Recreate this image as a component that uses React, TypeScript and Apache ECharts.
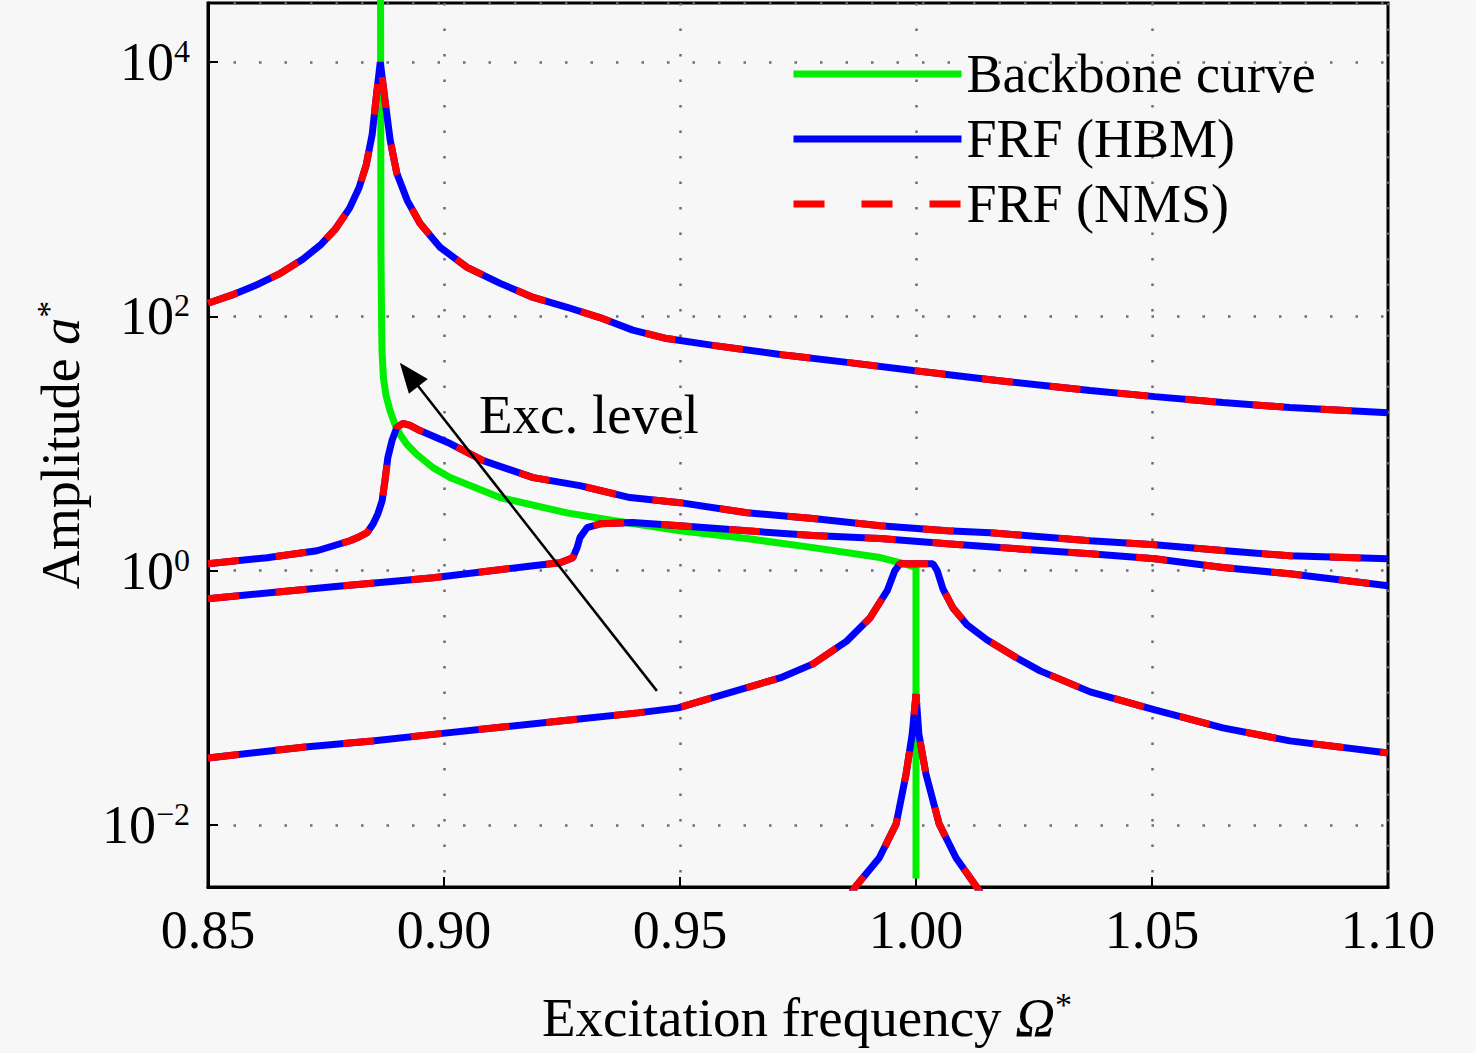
import React, { useEffect, useRef } from "react";
import * as echarts from "echarts";

const FONT = '"Liberation Serif", "Times New Roman", Times, serif';

// y tick decades that carry labels
const yDecades = [-2, 0, 2, 4];

// Backbone curve
const backboneFreq = [0.88655, 0.88665, 0.88678, 0.88686, 0.88718, 0.88771, 0.88856, 0.88962, 0.89068, 0.89216, 0.89428, 0.89767, 0.90127, 0.91186, 0.92606, 0.9358, 0.95, 0.9642, 0.9782, 0.9924, 0.9966, 1.0, 1.0];
const backboneAmp = [40000, 300, 90, 54, 32.5, 23.9, 18.2, 14.1, 11.8, 9.83, 8.19, 6.47, 5.4, 3.76, 2.85, 2.48, 2.06, 1.79, 1.52, 1.27, 1.16, 1.06, 0.0038];

// FRF, highest excitation level
const frfAFreq = [0.85, 0.855, 0.86, 0.865, 0.87, 0.874, 0.877, 0.88, 0.882, 0.8835, 0.8848, 0.8856, 0.8865, 0.8875, 0.8886, 0.89, 0.8922, 0.8949, 0.8992, 0.9049, 0.9119, 0.9189, 0.9261, 0.933, 0.94, 0.9472, 0.957, 0.9712, 0.9854, 0.9994, 1.0172, 1.0369, 1.0506, 1.065, 1.0792, 1.1];
const frfAAmp = [127, 147, 175, 215, 280, 370, 487, 711, 1028, 1541, 2721, 5140, 10000, 5023, 2432, 1337, 818, 540, 349, 243, 182, 141, 118, 98, 78, 67, 59.2, 50.2, 43.5, 37.6, 31.3, 26.1, 23.4, 21.0, 19.2, 17.5];

// FRF, second level
const frfBFreq = [0.85, 0.8625, 0.8731, 0.8801, 0.8822, 0.8837, 0.885, 0.886, 0.8869, 0.8875, 0.8881, 0.889, 0.89, 0.8913, 0.8928, 0.8949, 0.9013, 0.9083, 0.9189, 0.9288, 0.9394, 0.95, 0.9642, 0.9782, 0.9924, 1.0066, 1.0157, 1.0369, 1.0506, 1.065, 1.0792, 1.1];
const frfBAmp = [1.135, 1.265, 1.435, 1.72, 1.86, 1.99, 2.34, 2.81, 3.56, 5.12, 7.76, 10.6, 13.4, 14.4, 13.9, 12.65, 10.0, 7.345, 5.395, 4.67, 3.76, 3.43, 2.86, 2.57, 2.26, 2.06, 1.99, 1.72, 1.6, 1.44, 1.31, 1.24];

// FRF, third level
const frfCFreq = [0.85, 0.8765, 0.8977, 0.9189, 0.9246, 0.9273, 0.9282, 0.9288, 0.9303, 0.9331, 0.94, 0.95, 0.9642, 0.9782, 0.9924, 1.0066, 1.0178, 1.0369, 1.0506, 1.065, 1.0792, 1.1];
const frfCAmp = [0.603, 0.748, 0.881, 1.094, 1.156, 1.265, 1.517, 1.82, 2.18, 2.34, 2.39, 2.26, 2.06, 1.89, 1.79, 1.63, 1.52, 1.36, 1.24, 1.06, 0.946, 0.762];

// FRF, fourth level
const frfDFreq = [0.85, 0.8706, 0.8848, 0.8987, 0.9129, 0.9271, 0.9411, 0.9496, 0.9553, 0.9712, 0.9782, 0.9854, 0.9903, 0.9939, 0.9955, 0.9966, 1.0036, 1.0045, 1.0057, 1.0078, 1.0108, 1.015, 1.0206, 1.0263, 1.0369, 1.0506, 1.065, 1.0792, 1.1];
const frfDAmp = [0.0337, 0.0411, 0.0458, 0.0521, 0.0592, 0.0672, 0.0762, 0.0834, 0.0964, 0.1435, 0.185, 0.281, 0.427, 0.697, 1.0, 1.135, 1.135, 1.0, 0.721, 0.512, 0.376, 0.286, 0.214, 0.163, 0.1115, 0.0805, 0.0581, 0.0459, 0.0369];

// FRF, lowest level
const frfEFreq = [0.9851, 0.9873, 0.9922, 0.9958, 0.9979, 0.9992, 1.0, 1.0006, 1.0021, 1.0049, 1.0085, 1.0127, 1.0149];
const frfEAmp = [0.0025, 0.00331, 0.0055, 0.0102, 0.0252, 0.0521, 0.107, 0.0521, 0.0252, 0.0102, 0.0055, 0.00331, 0.0025];

// "Exc. level" arrow (start, end) in data coordinates
const arrowFreq = [0.9451, 0.8926];
const arrowAmp = [0.1135, 34.9];

const zip = (f: number[], a: number[]) => f.map((v, i) => [v, a[i]]);

const LW = 7;
const BLUE = "#0000ff";
const RED = "#ff0000";
const GREEN = "#00ee00";
const DASH = [31, 37];

export default function App() {
  const ref = useRef<HTMLDivElement>(null);

  useEffect(() => {
    const chart = echarts.init(ref.current!, null, { renderer: "svg" });

    const curves = [
      zip(frfAFreq, frfAAmp),
      zip(frfBFreq, frfBAmp),
      zip(frfCFreq, frfCAmp),
      zip(frfDFreq, frfDAmp),
      zip(frfEFreq, frfEAmp),
    ];

    const series: any[] = [
      {
        type: "line",
        name: "Backbone curve",
        data: zip(backboneFreq, backboneAmp),
        symbol: "none",
        showSymbol: false,
        silent: true,
        lineStyle: { color: GREEN, width: LW, cap: "butt" },
        itemStyle: { color: GREEN },
        z: 2,
      },
    ];
    curves.forEach((d, k) => {
      series.push({
        type: "line",
        name: "FRF (HBM)",
        data: d,
        symbol: "none",
        showSymbol: false,
        silent: true,
        lineStyle: { color: BLUE, width: LW, type: "solid" },
        itemStyle: { color: BLUE },
        z: 3,
      });
      const red: any = {
        type: "line",
        name: "FRF (NMS)",
        data: d,
        symbol: "none",
        showSymbol: false,
        silent: true,
        lineStyle: { color: RED, width: LW, type: DASH, cap: "butt" },
        itemStyle: { color: RED },
        z: 4,
      };
      if (k === curves.length - 1) {
        red.markLine = {
          silent: true,
          animation: false,
          symbol: ["none", "triangle"],
          symbolSize: [24, 30],
          label: { show: false },
          lineStyle: { color: "#000", width: 2.5, type: "solid" },
          itemStyle: { color: "#000" },
          emphasis: { disabled: true },
          data: [
            [
              { coord: [arrowFreq[0], arrowAmp[0]] },
              { coord: [arrowFreq[1], arrowAmp[1]] },
            ],
          ],
        };
      }
      series.push(red);
    });

    const option: any = {
      animation: false,
      backgroundColor: "#f7f7f7",
      textStyle: { fontFamily: FONT },
      grid: {
        left: 208,
        right: 88,
        top: 3,
        bottom: 166,
        show: true,
        borderColor: "#000",
        borderWidth: 3,
        backgroundColor: "transparent",
      },
      legend: {
        orient: "vertical",
        left: 785,
        top: 42,
        itemWidth: 168,
        itemHeight: 4,
        itemGap: 11,
        selectedMode: false,
        itemStyle: { opacity: 0 },
        lineStyle: { width: LW },
        textStyle: { fontFamily: FONT, fontSize: 54, color: "#000", lineHeight: 54 },
        data: ["Backbone curve", "FRF (HBM)", "FRF (NMS)"],
      },
      xAxis: {
        type: "value",
        min: 0.85,
        max: 1.1,
        interval: 0.05,
        name: "{n|Excitation frequency }{i|Ω}{s|*}",
        nameLocation: "middle",
        nameGap: 100,
        nameTextStyle: {
          fontFamily: FONT,
          fontSize: 55,
          color: "#000",
          lineHeight: 60,
          padding: [0, 0, 0, 18],
          rich: {
            n: { fontFamily: FONT, fontSize: 55, color: "#000", lineHeight: 60, verticalAlign: "middle" },
            i: { fontFamily: FONT, fontSize: 55, color: "#000", fontStyle: "italic", lineHeight: 60, verticalAlign: "middle" },
            s: { fontFamily: FONT, fontSize: 34, color: "#000", lineHeight: 40, verticalAlign: "top" },
          },
        },
        axisLine: { show: true, lineStyle: { color: "#000", width: 3 } },
        axisTick: { show: true, inside: true, length: 10, lineStyle: { color: "#000", width: 2 } },
        axisLabel: {
          margin: 16,
          fontFamily: FONT,
          fontSize: 54,
          color: "#000",
          lineHeight: 54,
          formatter: (v: number) => v.toFixed(2),
        },
        splitLine: { show: true, lineStyle: { color: "#6e6e6e", width: 2.5, type: [2.5, 23] } },
      },
      yAxis: {
        type: "log",
        logBase: 100,
        min: Math.pow(10, -2.4875),
        max: Math.pow(10, 4.465),
        name: "{n|Amplitude }{i|a}{s|*}",
        nameLocation: "middle",
        nameGap: 116,
        nameTextStyle: {
          fontFamily: FONT,
          fontSize: 54,
          color: "#000",
          lineHeight: 60,
          rich: {
            n: { fontFamily: FONT, fontSize: 54, color: "#000", lineHeight: 60, verticalAlign: "middle" },
            i: { fontFamily: FONT, fontSize: 54, color: "#000", fontStyle: "italic", lineHeight: 60, verticalAlign: "middle" },
            s: { fontFamily: FONT, fontSize: 34, color: "#000", lineHeight: 40, verticalAlign: "top" },
          },
        },
        axisLine: { show: true, lineStyle: { color: "#000", width: 3 } },
        axisTick: { show: true, inside: true, length: 10, lineStyle: { color: "#000", width: 2 } },
        axisLabel: {
          margin: 18,
          formatter: (v: number) => {
            const lg = Math.log10(v);
            const e = Math.round(lg);
            if (Math.abs(lg - e) > 1e-6 || yDecades.indexOf(e) < 0) return "";
            const s = e < 0 ? "\u2212" + String(-e) : String(e);
            return "{b|10}{s|" + s + "}";
          },
          rich: {
            b: { fontFamily: FONT, fontSize: 54, color: "#000", lineHeight: 54, verticalAlign: "middle" },
            s: { fontFamily: FONT, fontSize: 32, color: "#000", lineHeight: 34, verticalAlign: "top" },
          },
        },
        splitLine: { show: true, lineStyle: { color: "#6e6e6e", width: 2.5, type: [2.5, 23] } },
      },
      graphic: [
        {
          type: "text",
          x: 479,
          y: 414,
          silent: true,
          style: {
            text: "Exc. level",
            fontFamily: FONT,
            fontSize: 55,
            fill: "#000",
            verticalAlign: "middle",
          },
        },
      ],
      series,
    };

    chart.setOption(option);
    return () => chart.dispose();
  }, []);

  return (
    <div
      ref={ref}
      style={{ position: "absolute", left: 0, top: 0, width: 1476, height: 1053 }}
    />
  );
}
